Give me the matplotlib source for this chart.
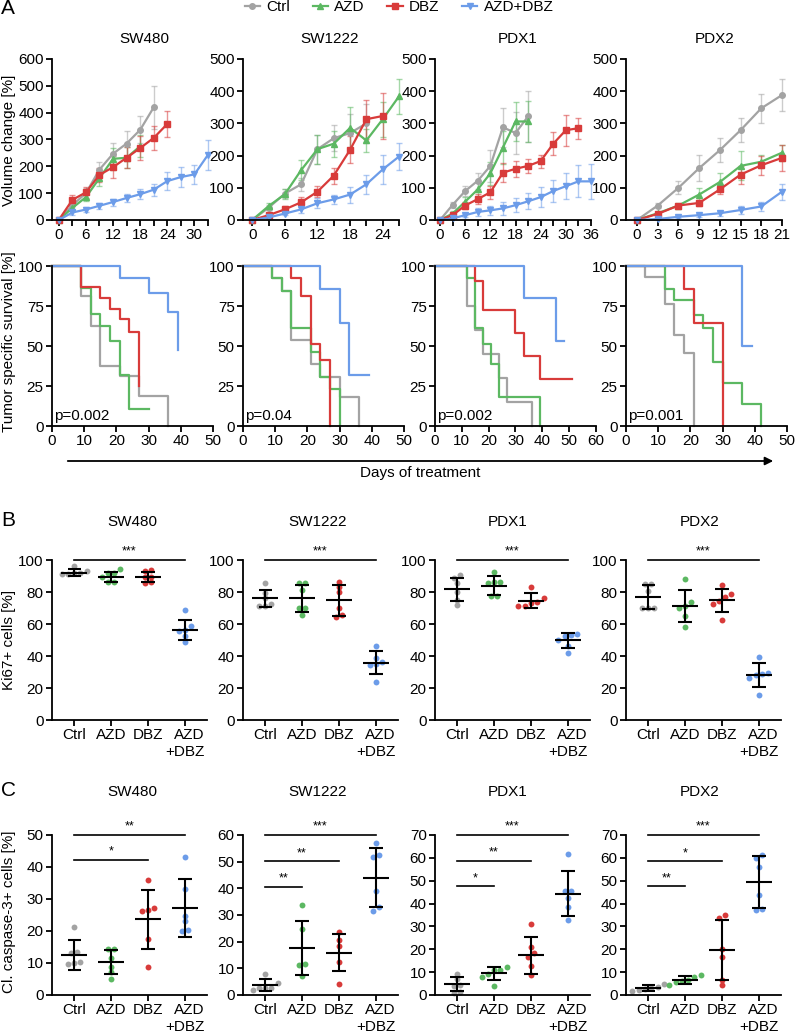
import numpy as np
import matplotlib
matplotlib.use("Agg")
import matplotlib.pyplot as plt
from matplotlib.colors import to_rgba
from matplotlib.lines import Line2D
from matplotlib.patches import FancyArrowPatch

plt.rcParams["font.family"] = ["Liberation Sans", "DejaVu Sans"]
plt.rcParams["font.size"] = 11

W, H = 796, 1032

GROUPS = ["Ctrl", "AZD", "DBZ", "AZD+DBZ"]
COLORS = ["#a3a3a3", "#5cb862", "#d83b3a", "#6c9ce9"]
MARKERS = ["o", "^", "s", "v"]
CAT_LABELS = ["Ctrl", "AZD", "DBZ", "AZD\n+DBZ"]

# ---- A (top): volume change [%], mean and error per group ----
sw480_days = [0, 3, 6, 9, 12, 15, 18, 21, 24, 27, 30, 33]
sw480_vol = [
    [0, 55, 100, 188, 247, 285, 336, 420],
    [0, 45, 85, 156, 228, 232, 275],
    [0, 75, 103, 168, 197, 232, 268, 306, 358],
    [0, 28, 39, 53, 67, 82, 96, 113, 145, 160, 170, 243],
]
sw480_err = [
    [0, 15, 20, 30, 40, 45, 50, 80],
    [0, 10, 15, 30, 40, 40, 40],
    [0, 20, 20, 25, 40, 40, 45, 45, 50],
    [0, 10, 10, 12, 13, 15, 18, 22, 35, 38, 35, 55],
]

sw1222_days = [0, 3, 6, 9, 12, 15, 18, 21, 24, 27]
sw1222_vol = [
    [0, 38, 82, 111, 220, 254, 270, 300],
    [0, 43, 80, 155, 220, 237, 286, 247, 313, 384],
    [0, 15, 33, 55, 88, 138, 218, 313, 323],
    [0, 8, 20, 33, 52, 64, 79, 111, 157, 197],
]
sw1222_err = [
    [0, 8, 15, 20, 45, 40, 60, 60],
    [0, 10, 15, 30, 45, 40, 65, 35, 55, 55],
    [0, 5, 10, 15, 18, 25, 42, 60, 70],
    [0, 4, 6, 10, 15, 15, 25, 30, 45, 42],
]

pdx1_days = [0, 3, 6, 9, 12, 15, 18, 21, 24, 27, 30, 33, 36]
pdx1_vol = [
    [0, 47, 90, 122, 168, 288, 270, 322],
    [0, 20, 57, 95, 145, 225, 306, 306],
    [0, 15, 45, 65, 86, 147, 159, 168, 183, 237, 279, 285],
    [0, 5, 15, 25, 30, 36, 46, 58, 71, 90, 105, 120, 120],
]
pdx1_err = [
    [0, 10, 15, 25, 50, 60, 65, 80],
    [0, 8, 15, 25, 35, 50, 60, 65],
    [0, 5, 10, 15, 20, 30, 25, 22, 20, 35, 48, 32],
    [0, 3, 5, 12, 15, 20, 22, 25, 30, 35, 40, 50, 55],
]

pdx2_days = [0, 3, 6, 9, 12, 15, 18, 21]
pdx2_vol = [
    [0, 45, 100, 161, 217, 279, 347, 388],
    [0, 21, 45, 79, 118, 168, 181, 209],
    [0, 19, 45, 53, 95, 141, 170, 193],
    [0, 3, 10, 15, 21, 31, 42, 88],
]
pdx2_err = [
    [0, 8, 20, 40, 38, 38, 45, 50],
    [0, 5, 8, 20, 28, 45, 20, 25],
    [0, 4, 6, 8, 14, 28, 30, 40],
    [0, 2, 4, 5, 8, 12, 15, 25],
]

# ---- A (bottom): Kaplan-Meier steps, time [days] / survival [%] ----
sw480_km_t = [
    [0, 9, 12, 15, 21, 27, 36],
    [0, 9, 12, 15, 18, 21, 24, 30],
    [0, 9, 15, 18, 21, 24, 27],
    [0, 21, 30, 36, 39],
]
sw480_km_s = [
    [100, 81.3, 62.5, 37.5, 31.3, 18.8, 0],
    [100, 86, 70, 62.5, 53.3, 32, 10.7, 10.7],
    [100, 86.7, 80, 73.3, 66.7, 58.7, 25],
    [100, 92.3, 83.3, 71.4, 47.6],
]
sw1222_km_t = [
    [0, 9, 12, 15, 21, 24, 30, 36],
    [0, 9, 12, 15, 21, 24, 27, 30],
    [0, 15, 18, 21, 24, 27],
    [0, 24, 30, 33, 39],
]
sw1222_km_s = [
    [100, 92.3, 84.6, 53.8, 38.5, 30.8, 18, 0],
    [100, 92.3, 84.6, 61.5, 46.2, 30.8, 23.1, 0],
    [100, 92.3, 81, 51, 41, 0],
    [100, 85.7, 64.3, 32.1, 32.1],
]
pdx1_km_t = [
    [0, 12, 15, 18, 24, 27, 36],
    [0, 12, 15, 18, 21, 24, 39],
    [0, 15, 18, 30, 33, 39, 51],
    [0, 33, 45, 48],
]
pdx1_km_s = [
    [100, 75, 60, 45, 30, 15, 0],
    [100, 92.3, 61.5, 51.5, 38.5, 18, 0],
    [100, 90.9, 72.7, 57.9, 43.6, 29.1, 29.1],
    [100, 80, 53.3, 53.3],
]
pdx2_km_t = [
    [0, 6, 12, 15, 18, 21],
    [0, 12, 15, 21, 24, 27, 30, 36, 42],
    [0, 18, 21, 30],
    [0, 36, 39],
]
pdx2_km_s = [
    [100, 92.9, 76.2, 57.1, 45.7, 0],
    [100, 85.7, 78.6, 69.4, 61.5, 40, 27, 14, 0],
    [100, 85.7, 64.3, 0],
    [100, 50, 50],
]
km_pvals = ["p=0.002", "p=0.04", "p=0.002", "p=0.001"]

# ---- B: Ki67+ cells [%] ----
ki67_sw480 = [[96.3, 93, 92, 92, 91, 91.5], [94.4, 91.7, 91.7, 89.6, 86, 86],
              [93.8, 93, 89.6, 89.6, 86, 85.5], [68.5, 59, 56.4, 55.8, 52.7, 48.8]]
ki67_sw480_mean = [92.1, 89.6, 89.4, 56.4]
ki67_sw480_sd = [2.0, 3.1, 3.2, 6.4]
ki67_sw1222 = [[85.5, 79.3, 76, 72.6, 71, 71], [85.5, 85.5, 81, 70, 70, 65.6],
               [86.5, 83.4, 80, 69.7, 64.3, 65.8], [46, 39, 35, 36, 34.6, 23.7]]
ki67_sw1222_mean = [76.1, 76.1, 74.7, 35.7]
ki67_sw1222_sd = [5.2, 8.5, 9.6, 7.2]
ki67_pdx1 = [[90.7, 88.6, 85.5, 79.7, 75, 72], [92.3, 85.5, 86, 86, 77.6, 77.6],
             [83, 76.1, 74, 73.4, 71, 71], [53.3, 53.7, 52.3, 49.8, 46, 41.9]]
ki67_pdx1_mean = [81.7, 84, 74.5, 49.8]
ki67_pdx1_sd = [7.3, 5.7, 4.8, 4.7]
ki67_pdx2 = [[85.3, 85.3, 80.6, 70, 70, 70], [88, 74, 70, 71.2, 64.8, 57.9],
             [84.2, 78.7, 74.1, 76.8, 72.4, 62.7], [39.6, 28, 29.5, 29, 26, 15.4]]
ki67_pdx2_mean = [76.8, 71.2, 74.7, 28]
ki67_pdx2_sd = [7.7, 10, 7, 7.6]

# ---- C: cleaved caspase-3+ cells [%] ----
casp_sw480 = [[21.1, 13.4, 13.1, 9.9, 9.7, 10.2], [14.3, 14.3, 11.5, 8.9, 7.1, 5],
              [35.9, 27.1, 26.4, 26.6, 17.5, 8.9], [43, 33, 24.7, 23.1, 20, 20.3]]
casp_sw480_mean = [12.5, 10.3, 23.6, 27.3]
casp_sw480_sd = [4.7, 3.8, 9.3, 9.1]
casp_sw1222 = [[7.9, 2.8, 2.5, 2.5, 1.9, 4.5], [33.9, 24.7, 11.6, 11.4, 7.1],
               [23.6, 20.6, 18.4, 12.5, 4], [56.9, 51.6, 52.4, 39.1, 31.6, 33]]
casp_sw1222_mean = [3.75, 17.6, 15.9, 44]
casp_sw1222_sd = [2.3, 10, 6.8, 11]
casp_pdx1 = [[9, 6.8, 4.5, 3.8, 1.2, 0.9], [11, 12.4, 11, 9, 7.7, 4.1],
             [31.1, 21.2, 18.3, 16.6, 12.5, 8.6], [61.6, 45.3, 45.3, 42.5, 38.4, 32.9]]
casp_pdx1_mean = [4.7, 9.5, 17.3, 44.4]
casp_pdx1_sd = [3, 2.9, 8.2, 9.7]
casp_pdx2 = [[4.9, 3.6, 3.0, 2.6, 2.2, 1.8], [8.9, 8.0, 6.7, 6.0, 5.5, 4.5],
             [35.2, 33.8, 20.2, 16.6, 6.7, 4.2], [61.1, 60, 56.2, 43.8, 37, 37.5]]
casp_pdx2_mean = [2.9, 6.5, 19.5, 49.3]
casp_pdx2_sd = [1.3, 1.8, 13.1, 11.3]

# significance bars: (from group, to group, height, label)
ki67_sig = [(0, 3, 100, "***")]
casp_sw480_sig = [(0, 3, 50, "**"), (0, 2, 42.2, "*")]
casp_sw1222_sig = [(0, 3, 60, "***"), (0, 2, 50.1, "**"), (0, 1, 40.6, "**")]
casp_pdx1_sig = [(0, 3, 70, "***"), (0, 2, 58.8, "**"), (0, 1, 47.6, "*")]
casp_pdx2_sig = [(0, 3, 70, "***"), (0, 2, 58.5, "*"), (0, 1, 47.5, "**")]


def px_box(left, top, width, height):
    return [left / W, 1 - (top + height) / H, width / W, height / H]


def style_axes(ax):
    for side in ("top", "right"):
        ax.spines[side].set_visible(False)
    for side in ("left", "bottom"):
        ax.spines[side].set_linewidth(1.3)
    ax.tick_params(length=4, width=1.3, pad=2, labelsize=11)


def plot_growth(ax, days, means, errs, xlim, label_step, ymax):
    for m, e, c, mk in zip(means, errs, COLORS, MARKERS):
        d = days[:len(m)]
        ax.errorbar(d, m, yerr=e, color=c, marker=mk, ms=4, lw=1.6,
                    ecolor=to_rgba(c, 0.55), elinewidth=1.0, capsize=2.5,
                    capthick=1.0, clip_on=False)
    ticks = np.arange(0, xlim[1] + 0.1, 3)
    ax.set_xticks(ticks)
    ax.set_xticklabels([f"{t:.0f}" if t % label_step == 0 else "" for t in ticks])
    ax.set_xlim(*xlim)
    ax.set_ylim(0, ymax)
    ax.set_yticks(np.arange(0, ymax + 1, 100))
    style_axes(ax)


def plot_km(ax, times, surv, xmax, pval):
    for t, s, c in zip(times, surv, COLORS):
        ax.step(t, s, where="post", color=c, lw=1.6, clip_on=False)
    ax.set_xlim(0, xmax)
    ax.set_ylim(0, 100)
    ax.set_xticks(np.arange(0, xmax + 1, 10))
    ax.set_yticks([0, 25, 50, 75, 100])
    ax.text(0.01, 0.02, pval, transform=ax.transAxes, ha="left", va="bottom",
            fontsize=11)
    style_axes(ax)


def swarm_offsets(vals, tol, step=0.17):
    vals = np.asarray(vals, float)
    order = np.argsort(vals)
    off = np.zeros(len(vals))
    groups = [[order[0]]]
    for a, b in zip(order[:-1], order[1:]):
        if vals[b] - vals[a] < tol:
            groups[-1].append(b)
        else:
            groups.append([b])
    for g in groups:
        n = len(g)
        off[g] = (np.arange(n) - (n - 1) / 2) * step
    return off


def plot_dots(ax, values, means, sds, ymax, ystep, sig):
    for i, (v, mu, sd, c) in enumerate(zip(values, means, sds, COLORS)):
        x = i + swarm_offsets(v, 0.03 * ymax)
        ax.scatter(x, v, s=18, color=c, lw=0, zorder=2, clip_on=False)
        ax.hlines(mu, i - 0.36, i + 0.36, color="black", lw=1.5, zorder=3)
        ax.vlines(i, mu - sd, mu + sd, color="black", lw=1.5, zorder=3)
        ax.hlines([mu - sd, mu + sd], i - 0.18, i + 0.18, color="black",
                  lw=1.5, zorder=3)
    for x0, x1, y, lab in sig:
        ax.plot([x0, x1], [y, y], color="black", lw=1.2, clip_on=False)
        ax.annotate(lab, ((x0 + x1) / 2, y), xytext=(0, 1.5),
                    textcoords="offset points", ha="center", va="bottom",
                    fontsize=9)
    ax.set_xlim(-0.6, 3.6)
    ax.set_ylim(0, ymax)
    ax.set_yticks(np.arange(0, ymax + 1, ystep))
    ax.set_xticks(range(4))
    ax.set_xticklabels(CAT_LABELS, multialignment="right")
    style_axes(ax)


def main() -> None:
    fig = plt.figure(figsize=(W / 100, H / 100), dpi=100)
    lefts = [52, 243, 435, 626]
    models = ["SW480", "SW1222", "PDX1", "PDX2"]

    # A, growth curves
    growth = [
        (sw480_days, sw480_vol, sw480_err, (-1.5, 33), 6, 600),
        (sw1222_days, sw1222_vol, sw1222_err, (-1.7, 27), 6, 500),
        (pdx1_days, pdx1_vol, pdx1_err, (-1.2, 36), 6, 500),
        (pdx2_days, pdx2_vol, pdx2_err, (-1.6, 21), 3, 500),
    ]
    for left, args in zip(lefts, growth):
        ax = fig.add_axes(px_box(left, 59, 156, 161))
        plot_growth(ax, *args)

    # A, survival
    km = [
        (sw480_km_t, sw480_km_s, 50),
        (sw1222_km_t, sw1222_km_s, 50),
        (pdx1_km_t, pdx1_km_s, 60),
        (pdx2_km_t, pdx2_km_s, 50),
    ]
    for left, (t, s, xmax), p in zip(lefts, km, km_pvals):
        ax = fig.add_axes(px_box(left, 266, 161, 160))
        plot_km(ax, t, s, xmax, p)

    # B, Ki67
    ki67 = [
        (ki67_sw480, ki67_sw480_mean, ki67_sw480_sd),
        (ki67_sw1222, ki67_sw1222_mean, ki67_sw1222_sd),
        (ki67_pdx1, ki67_pdx1_mean, ki67_pdx1_sd),
        (ki67_pdx2, ki67_pdx2_mean, ki67_pdx2_sd),
    ]
    for left, (v, m, sd) in zip(lefts, ki67):
        ax = fig.add_axes(px_box(left, 560, 155, 160))
        plot_dots(ax, v, m, sd, 100, 20, ki67_sig)

    # C, cleaved caspase-3
    casp = [
        (casp_sw480, casp_sw480_mean, casp_sw480_sd, 50, casp_sw480_sig),
        (casp_sw1222, casp_sw1222_mean, casp_sw1222_sd, 60, casp_sw1222_sig),
        (casp_pdx1, casp_pdx1_mean, casp_pdx1_sd, 70, casp_pdx1_sig),
        (casp_pdx2, casp_pdx2_mean, casp_pdx2_sd, 70, casp_pdx2_sig),
    ]
    for left, (v, m, sd, ymax, sig) in zip(lefts, casp):
        ax = fig.add_axes(px_box(left, 835, 155, 160))
        plot_dots(ax, v, m, sd, ymax, 10, sig)

    # titles, panel letters, axis labels
    for x, name in zip([144, 330, 518, 715], models):
        fig.text(x / W, 1 - 39 / H, name, ha="center", va="center", fontsize=11)
    for x, name in zip([132, 318, 508, 700], models):
        fig.text(x / W, 1 - 522 / H, name, ha="center", va="center", fontsize=11)
        fig.text(x / W, 1 - 792 / H, name, ha="center", va="center", fontsize=11)
    for y, letter in [(9, "A"), (521, "B"), (791, "C")]:
        fig.text(1 / W, 1 - y / H, letter, ha="left", va="center", fontsize=15)
    for y, lab in [(140, "Volume change [%]"), (342, "Tumor specific survival [%]"),
                   (640, "Ki67+ cells [%]"), (912, "Cl. caspase-3+ cells [%]")]:
        fig.text(9 / W, 1 - y / H, lab, rotation=90, ha="center", va="center",
                 fontsize=11)

    arrow = FancyArrowPatch((65 / W, 1 - 461 / H), (776 / W, 1 - 461 / H),
                            transform=fig.transFigure, arrowstyle="-|>",
                            mutation_scale=12, lw=1.3, color="black")
    fig.add_artist(arrow)
    fig.text(420 / W, 1 - 473 / H, "Days of treatment", ha="center",
             va="center", fontsize=11)

    handles = [Line2D([], [], color=c, marker=mk, ms=4, lw=1.6)
               for c, mk in zip(COLORS, MARKERS)]
    fig.legend(handles, GROUPS, loc="center", bbox_to_anchor=(399 / W, 1 - 7 / H),
               ncol=4, frameon=False, handlelength=1.0, handletextpad=0.4,
               columnspacing=1.5, fontsize=11, borderaxespad=0, borderpad=0)

    fig.savefig("out.png", dpi=100)
    plt.close(fig)


if __name__ == "__main__":
    main()
